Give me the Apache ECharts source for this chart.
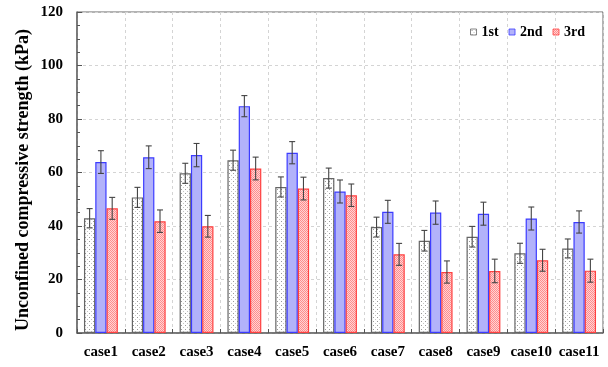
<!DOCTYPE html>
<html><head><meta charset="utf-8">
<script src="https://cdn.jsdelivr.net/npm/echarts@6/dist/echarts.min.js"></script>
<style>html,body{margin:0;padding:0;background:#fff}#c{width:608px;height:367px}</style>
</head><body><div id="c"></div>
<script>
const categories = ['case1','case2','case3','case4','case5','case6','case7','case8','case9','case10','case11'];
const yTicks = [0, 20, 40, 60, 80, 100, 120];
const seriesNames = ['1st', '2nd', '3rd'];
const first  = [42.9, 50.7, 59.7, 64.6, 54.6, 57.9, 39.6, 34.5, 36.0, 29.8, 31.6];
const second = [63.9, 65.7, 66.5, 84.8, 67.4, 52.9, 45.3, 45.0, 44.6, 42.8, 41.5];
const third  = [46.6, 41.8, 39.9, 61.5, 54.0, 51.5, 29.4, 22.8, 23.2, 27.2, 23.3];
const firstErr  = [3.6, 3.75, 3.75, 3.75, 3.75, 3.75, 3.7, 3.85, 3.85, 3.75, 3.55];
const secondErr = [4.25, 4.25, 4.35, 3.95, 4.15, 4.3, 4.3, 4.35, 4.3, 4.3, 4.15];
const thirdErr  = [4.1, 4.2, 4.05, 4.25, 4.25, 4.2, 4.1, 4.15, 4.4, 4.1, 4.3];

function makePattern(w, h, draw) {
  const c = document.createElement('canvas');
  c.width = w; c.height = h;
  draw(c.getContext('2d'));
  return { image: c, repeat: 'repeat' };
}
const dotPat = makePattern(4, 4, g => {
  g.fillStyle = '#fff'; g.fillRect(0, 0, 4, 4);
  g.fillStyle = '#999'; g.fillRect(1, 1, 1, 1);
  g.fillStyle = '#c4c4c4'; g.fillRect(3, 3, 1, 1);
});
const redPat = makePattern(2, 2, g => {
  g.fillStyle = '#ffd4d4'; g.fillRect(0, 0, 2, 2);
  g.fillStyle = '#ff8c8c'; g.fillRect(0, 0, 1, 1); g.fillRect(1, 1, 1, 1);
});

const values = [first, second, third];
const errs = [firstErr, secondErr, thirdErr];
const styles = [
  { color: dotPat, borderColor: '#666', borderWidth: 1.2 },
  { color: '#b2b2fa', borderColor: '#3c3cff', borderWidth: 1.2 },
  { color: redPat, borderColor: '#ff4040', borderWidth: 1.2 }
];
const FW = 0.236;
const font = 'Liberation Serif';

const series = [];
values.forEach((vals, k) => {
  series.push({
    name: seriesNames[k], type: 'bar', data: vals, barWidth: (FW * 100) + '%', barGap: '0%',
    itemStyle: styles[k], z: 2
  });
});
values.forEach((vals, k) => {
  series.push({
    type: 'custom', z: 5, silent: true,
    data: vals.map((v, i) => [i, v, errs[k][i]]),
    renderItem: function (params, api) {
      const i = api.value(0), v = api.value(1), e = api.value(2);
      const catW = api.size([1, 0])[0];
      const off = (k - 1) * catW * FW;
      const t = api.coord([i, v + e]);
      const b = api.coord([i, v - e]);
      const x = t[0] + off, cap = 3;
      const st = { stroke: '#444', lineWidth: 1.1 };
      return { type: 'group', children: [
        { type: 'line', shape: { x1: x, y1: t[1], x2: x, y2: b[1] }, style: st },
        { type: 'line', shape: { x1: x - cap, y1: t[1], x2: x + cap, y2: t[1] }, style: st },
        { type: 'line', shape: { x1: x - cap, y1: b[1], x2: x + cap, y2: b[1] }, style: st }
      ]};
    }
  });
});

const chart = echarts.init(document.getElementById('c'));
chart.setOption({
  animation: false,
  backgroundColor: '#fff',
  grid: { left: 77, right: 5, top: 12, bottom: 34, show: true, borderColor: '#666', borderWidth: 1 },
  legend: {
    data: seriesNames, right: 18, top: 20, itemWidth: 6, itemHeight: 6, itemGap: 10,
    icon: 'rect',
    itemStyle: { borderWidth: 0.8 },
    textStyle: { fontFamily: font, fontWeight: 'bold', fontSize: 14, color: '#000' }
  },
  xAxis: {
    type: 'category', data: categories,
    axisLine: { lineStyle: { color: '#666', width: 1.5 } },
    axisTick: { show: true, inside: true, length: 4, lineStyle: { color: '#555' } },
    splitLine: { show: true, lineStyle: { type: [3, 3], color: '#d4d4d4' } },
    axisLabel: { interval: 0, fontFamily: font, fontWeight: 'bold', fontSize: 15, color: '#000', margin: 12 }
  },
  yAxis: {
    type: 'value', min: yTicks[0], max: yTicks[yTicks.length - 1], interval: 20,
    name: 'Unconfined compressive strength (kPa)', nameLocation: 'middle', nameGap: 45,
    nameMoveOverlap: false,
    nameTextStyle: { fontFamily: font, fontWeight: 'bold', fontSize: 18, color: '#000', padding: [0, 15, 0, 0] },
    axisLine: { show: true, lineStyle: { color: '#666', width: 1.5 } },
    axisTick: { show: true, inside: true, length: 5, lineStyle: { color: '#555' } },
    minorTick: { show: true, splitNumber: 4, length: 3, lineStyle: { color: '#555' } },
    splitLine: { show: true, lineStyle: { type: [3, 3], color: '#d4d4d4' } },
    axisLabel: { fontFamily: font, fontWeight: 'bold', fontSize: 15, color: '#000', margin: 14 }
  },
  series: series
});
</script></body></html>
